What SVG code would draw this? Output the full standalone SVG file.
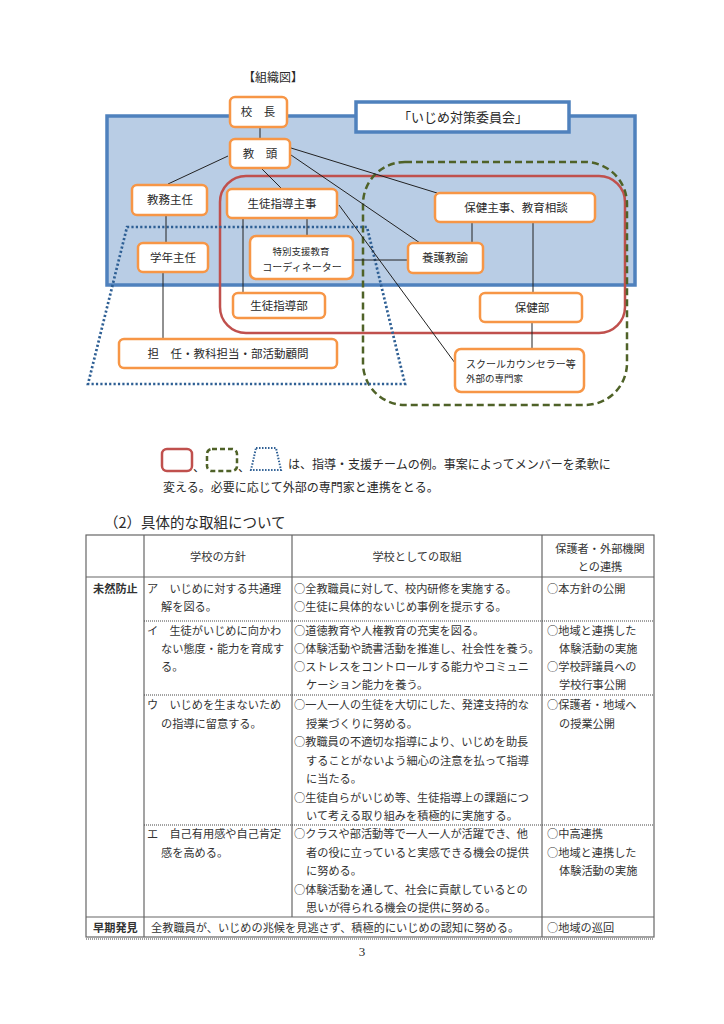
<svg xmlns="http://www.w3.org/2000/svg" width="724" height="1024" viewBox="0 0 724 1024">
<style>
text{font-family:"Noto Sans CJK JP","Noto Sans",sans-serif;fill:#2a2a2a}
.node rect{fill:#fff;stroke:#f79646;stroke-width:2.5}
.nt{font-size:11.5px;text-anchor:middle}
.conn line{stroke:#222;stroke-width:1}
.tb{font-size:11.2px;fill:#333}
.th{font-size:11.2px;text-anchor:middle;fill:#333}
.tl{stroke:#666;stroke-width:1.2;fill:none}
.td{stroke:#444;stroke-width:1;stroke-dasharray:1 1;fill:none}
</style>
<rect width="724" height="1024" fill="#fff"/>

<text x="273" y="82" font-size="12" text-anchor="middle">【組織図】</text>

<g id="committee">
<rect x="107" y="116" width="528" height="169" fill="#b9cde5" stroke="#4f81bd" stroke-width="3.5"/>
<rect x="356" y="102" width="213" height="30" fill="#fff" stroke="#4f81bd" stroke-width="3.5"/>
<text x="463" y="122" font-size="13" text-anchor="middle">「いじめ対策委員会」</text>
</g>

<g id="teams" fill="none">
<rect id="team-red" x="220" y="176" width="405" height="157" rx="26" stroke="#c0504d" stroke-width="2.5"/>
<rect id="team-green" x="363" y="162" width="264" height="243" rx="42" stroke="#4f6228" stroke-width="2.5" stroke-dasharray="7 4"/>
<polygon id="team-blue" points="127,227 367,227 405,384 88,384" stroke="#2e5f94" stroke-width="2.7" stroke-dasharray="2.2 2.2"/>
</g>

<g id="connectors" class="conn">
<line x1="260" y1="127" x2="260" y2="139"/>
<line x1="228" y1="156" x2="168" y2="184"/>
<line x1="262" y1="169" x2="282" y2="189"/>
<line x1="291" y1="148" x2="437" y2="193"/>
<line x1="291" y1="155" x2="420" y2="243"/>
<line x1="339" y1="205" x2="455" y2="363"/>
<line x1="166" y1="215" x2="166" y2="243"/>
<line x1="163" y1="272" x2="163" y2="339"/>
<line x1="243" y1="218" x2="243" y2="293"/>
<line x1="307" y1="218" x2="307" y2="236"/>
<line x1="353" y1="260" x2="408" y2="260"/>
<line x1="472" y1="222" x2="472" y2="243"/>
<line x1="533" y1="222" x2="533" y2="293"/>
<line x1="532" y1="322" x2="532" y2="349"/>
</g>

<g id="n-kocho" class="node"><rect x="230" y="97" width="57" height="30" rx="5"/><text class="nt" x="258" y="116">校　長</text></g>
<g id="n-kyoto" class="node"><rect x="230" y="139" width="60" height="29" rx="5"/><text class="nt" x="260" y="158">教　頭</text></g>
<g id="n-kyomu" class="node"><rect x="132" y="185" width="75" height="30" rx="5"/><text class="nt" x="170" y="204">教務主任</text></g>
<g id="n-seitoshuji" class="node"><rect x="227" y="189" width="110" height="29" rx="5"/><text class="nt" x="282" y="208">生徒指導主事</text></g>
<g id="n-hoken-shuji" class="node"><rect x="435" y="193" width="160" height="29" rx="5"/><text class="nt" x="516" y="212">保健主事、教育相談</text></g>
<g id="n-gakunen" class="node"><rect x="138" y="243" width="70" height="29" rx="5"/><text class="nt" x="173" y="262">学年主任</text></g>
<g id="n-tokubetsu" class="node"><rect x="250" y="236" width="103" height="43" rx="6"/><text x="301" y="255" font-size="9.5" text-anchor="middle">特別支援教育</text><text x="302" y="271" font-size="10" text-anchor="middle">コーディネーター</text></g>
<g id="n-yogo" class="node"><rect x="408" y="243" width="75" height="30" rx="5"/><text class="nt" x="445" y="262">養護教諭</text></g>
<g id="n-seitobu" class="node"><rect x="233" y="293" width="92" height="25" rx="5"/><text class="nt" x="279" y="310">生徒指導部</text></g>
<g id="n-hokenbu" class="node"><rect x="480" y="293" width="102" height="29" rx="5"/><text class="nt" x="532" y="312">保健部</text></g>
<g id="n-tannin" class="node"><rect x="119" y="339" width="218" height="29" rx="5"/><text class="nt" x="228" y="358">担　任・教科担当・部活動顧問</text></g>
<g id="n-sc" class="node"><rect x="455" y="349" width="129" height="43" rx="6"/><text x="466" y="368" font-size="10">スクールカウンセラー等</text><text x="466" y="382" font-size="9.5">外部の専門家</text></g>

<g id="legend">
<rect x="162" y="449" width="30" height="22" rx="5" fill="none" stroke="#c0504d" stroke-width="2.5"/>
<text x="193" y="472" font-size="12">、</text>
<rect x="207" y="449" width="30" height="22" rx="5" fill="none" stroke="#4f6228" stroke-width="2.5" stroke-dasharray="5 3"/>
<text x="238" y="472" font-size="12">、</text>
<polygon points="256,448 276,448 281,470 251,470" fill="none" stroke="#2e5f94" stroke-width="2" stroke-dasharray="1.5 1.5"/>
<text x="288" y="469" font-size="12">は、指導・支援チームの例。事案によってメンバーを柔軟に</text>
<text x="163" y="492" font-size="12">変える。必要に応じて外部の専門家と連携をとる。</text>
</g>

<text x="104" y="528" font-size="14.5">（2）具体的な取組について</text>

<g id="table">
<rect class="tl" x="86" y="535" width="568" height="402"/>
<line class="tl" x1="144" y1="535" x2="144" y2="937"/>
<line class="tl" x1="292" y1="535" x2="292" y2="917"/>
<line class="tl" x1="542" y1="535" x2="542" y2="937"/>
<line class="tl" x1="86" y1="577" x2="654" y2="577" stroke-width="2"/>
<line class="td" x1="144" y1="621" x2="654" y2="621"/>
<line class="td" x1="144" y1="695" x2="654" y2="695"/>
<line class="td" x1="144" y1="825" x2="654" y2="825"/>
<line class="tl" x1="86" y1="917" x2="654" y2="917"/>
<line class="td" x1="86" y1="939" x2="654" y2="939"/>

<text class="th" x="218" y="561">学校の方針</text>
<text class="th" x="417" y="561">学校としての取組</text>
<text class="th" x="600" y="553">保護者・外部機関</text>
<text class="th" x="600" y="571">との連携</text>

<text class="tb" x="93" y="593" font-weight="bold">未然防止</text>
<text class="tb" x="93" y="932" font-weight="bold">早期発見</text>

<text class="tb" x="147" y="593">ア　いじめに対する共通理</text>
<text class="tb" x="161" y="611">解を図る。</text>
<text class="tb" x="294" y="593">○全教職員に対して、校内研修を実施する。</text>
<text class="tb" x="294" y="611">○生徒に具体的ないじめ事例を提示する。</text>
<text class="tb" x="547" y="593">○本方針の公開</text>

<text class="tb" x="147" y="635">イ　生徒がいじめに向かわ</text>
<text class="tb" x="161" y="653">ない態度・能力を育成す</text>
<text class="tb" x="161" y="671">る。</text>
<text class="tb" x="294" y="635">○道徳教育や人権教育の充実を図る。</text>
<text class="tb" x="294" y="653">○体験活動や読書活動を推進し、社会性を養う。</text>
<text class="tb" x="294" y="671">○ストレスをコントロールする能力やコミュニ</text>
<text class="tb" x="306" y="689">ケーション能力を養う。</text>
<text class="tb" x="547" y="635">○地域と連携した</text>
<text class="tb" x="559" y="653">体験活動の実施</text>
<text class="tb" x="547" y="671">○学校評議員への</text>
<text class="tb" x="559" y="689">学校行事公開</text>

<text class="tb" x="147" y="709">ウ　いじめを生まないため</text>
<text class="tb" x="161" y="727.5">の指導に留意する。</text>
<text class="tb" x="294" y="709">○一人一人の生徒を大切にした、発達支持的な</text>
<text class="tb" x="306" y="727.5">授業づくりに努める。</text>
<text class="tb" x="294" y="746">○教職員の不適切な指導により、いじめを助長</text>
<text class="tb" x="306" y="764.5">することがないよう細心の注意を払って指導</text>
<text class="tb" x="306" y="783">に当たる。</text>
<text class="tb" x="294" y="801.5">○生徒自らがいじめ等、生徒指導上の課題につ</text>
<text class="tb" x="306" y="820">いて考える取り組みを積極的に実施する。</text>
<text class="tb" x="547" y="709">○保護者・地域へ</text>
<text class="tb" x="559" y="727.5">の授業公開</text>

<text class="tb" x="147" y="838">エ　自己有用感や自己肯定</text>
<text class="tb" x="161" y="856.5">感を高める。</text>
<text class="tb" x="294" y="838">○クラスや部活動等で一人一人が活躍でき、他</text>
<text class="tb" x="306" y="856.5">者の役に立っていると実感できる機会の提供</text>
<text class="tb" x="306" y="875">に努める。</text>
<text class="tb" x="294" y="893.5">○体験活動を通して、社会に貢献しているとの</text>
<text class="tb" x="306" y="912">思いが得られる機会の提供に努める。</text>
<text class="tb" x="547" y="838">○中高連携</text>
<text class="tb" x="547" y="856.5">○地域と連携した</text>
<text class="tb" x="559" y="875">体験活動の実施</text>

<text class="tb" x="151" y="932">全教職員が、いじめの兆候を見逃さず、積極的にいじめの認知に努める。</text>
<text class="tb" x="547" y="932">○地域の巡回</text>
</g>

<text x="362" y="956" font-size="13" text-anchor="middle" style="font-family:'Liberation Serif',serif">3</text>
</svg>
